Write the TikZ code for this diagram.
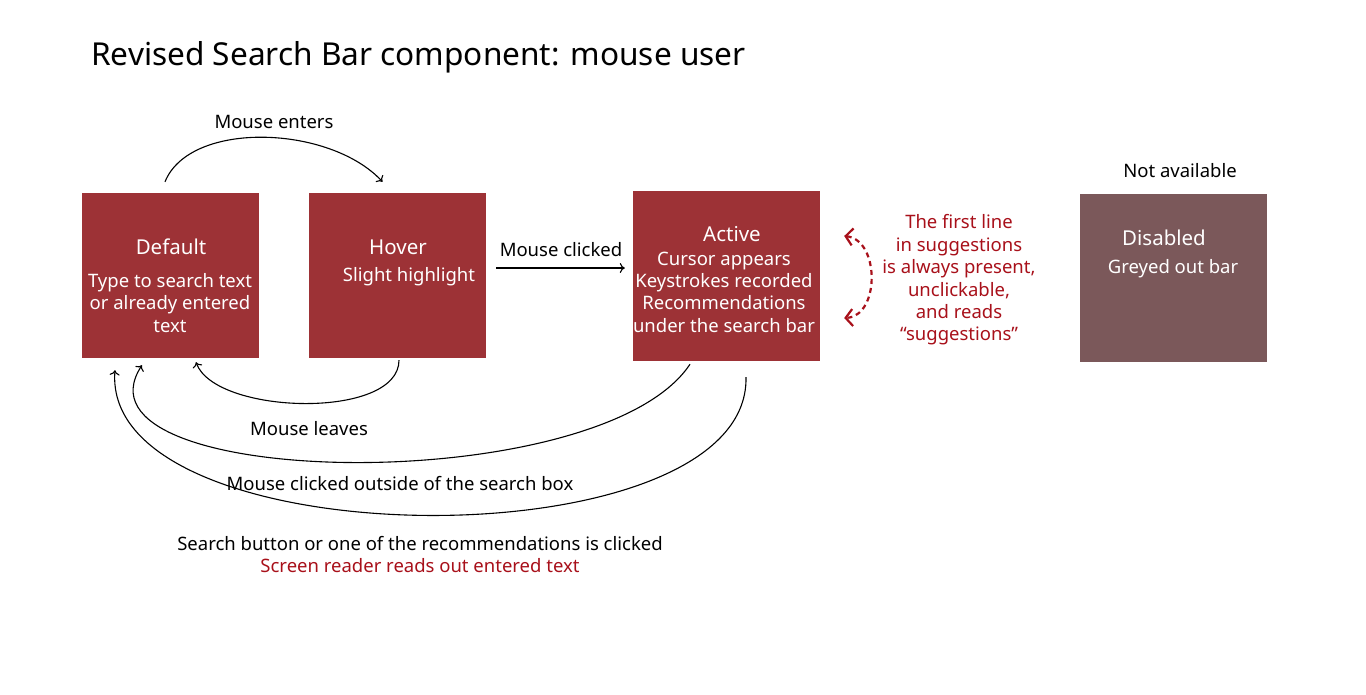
\documentclass[tikz,border=0pt]{standalone}
\usepackage{fontspec}
\setmainfont{Noto Sans}
\usetikzlibrary{calc,arrows.meta}
\definecolor{boxred}{RGB}{157,50,54}
\definecolor{boxgrey}{RGB}{123,88,90}
\definecolor{notered}{RGB}{168,16,26}
\tikzset{
  statebox/.style={draw=none,fill=#1,inner sep=0,minimum width=177pt,minimum height=165pt},
  wt/.style={text=white,inner sep=0,align=center,font=\fontsize{18.5}{22.4}\selectfont},
  wtitle/.style={text=white,inner sep=0,font=\fontsize{20.5}{24}\selectfont},
  lbl/.style={text=black,inner sep=0,align=center,font=\fontsize{18.5}{22.4}\selectfont},
  rlbl/.style={text=notered,inner sep=0,align=center,font=\fontsize{18.5}{22.4}\selectfont},
  conn/.style={draw=black,line width=1.1pt,-{To[length=5pt,width=10pt]}},
  dconn/.style={draw=notered,line width=2.2pt,dash pattern=on 5pt off 4pt,
     {Straight Barb[length=7pt,width=17pt]}-{Straight Barb[length=7pt,width=17pt]}}
}
\begin{document}
\begin{tikzpicture}[x=1pt,y=-1pt]
\useasboundingbox (0,0) rectangle (1366,694);
% title
\node[anchor=base west,inner sep=0,font=\fontsize{31.6}{36}\selectfont] (title) at (91,65) {Revised Search Bar component: mouse user};
% boxes
\node[statebox=boxred] (def) at (170.5,275.5) {};
\node[statebox=boxred] (hov) at (397.5,275.5) {};
\node[statebox=boxred,minimum width=187pt,minimum height=170pt] (act) at (726.5,276) {};
\node[statebox=boxgrey,minimum width=187pt,minimum height=168pt] (dis) at (1173.5,278) {};
% box texts
\node[wtitle] (deft) at (171,247) {Default};
\node[wt] (defs) at (170,303) {Type to search text\\or already entered\\text};
\node[wtitle] (hovt) at (398,247) {Hover};
\node[wt] (hovs) at (409,277) {Slight highlight};
\node[wtitle] (actt) at (732,234) {Active};
\node[wt] (acts) at (724,292) {Cursor appears\\Keystrokes recorded\\Recommendations\\under the search bar};
\node[wtitle] (dist) at (1164,238) {Disabled};
\node[wt] (diss) at (1173,269) {Greyed out bar};
\node[lbl] (na) at (1180,171) {Not available};
% labels
\node[lbl] (lenter) at (274,122) {Mouse enters};
\node[lbl] (lclick) at (561,250) {Mouse clicked};
\node[lbl] (lleave) at (309,429) {Mouse leaves};
\node[lbl] (lout) at (400,484) {Mouse clicked outside of the search box};
\node[lbl] (lsearch) at (420,544) {Search button or one of the recommendations is clicked};
\node[rlbl] (lsr) at (420,566) {Screen reader reads out entered text};
\node[rlbl] (note) at (959,280) {The first line\\in suggestions\\is always present,\\unclickable,\\and reads\\“suggestions”};
% connectors
\draw[conn] ($(def.north)+(-5.5,-11)$) .. controls (190,120) and (330,125) .. ($(hov.north)+(-15,-11)$);
\draw[conn] ($(hov.east)+(10,-7.5)$) -- ($(act.west)+(-8,-8)$);
\draw[conn] ($(hov.south)+(1.5,2)$) .. controls (399,420) and (215,415) .. ($(def.south)+(25.5,4)$);
\draw[conn] ($(act.south)+(-36.5,3)$) .. controls (600,500) and (60,490) .. ($(def.south)+(-28.5,7)$);
\draw[conn] ($(act.south)+(19.5,16)$) .. controls (750,565) and (100,560) .. ($(def.south)+(-55.5,12)$);
\draw[dconn] ($(act.east)+(24,-40)$) .. controls (880,240) and (880,316) .. ($(act.east)+(24,42)$);
\end{tikzpicture}
\end{document}
